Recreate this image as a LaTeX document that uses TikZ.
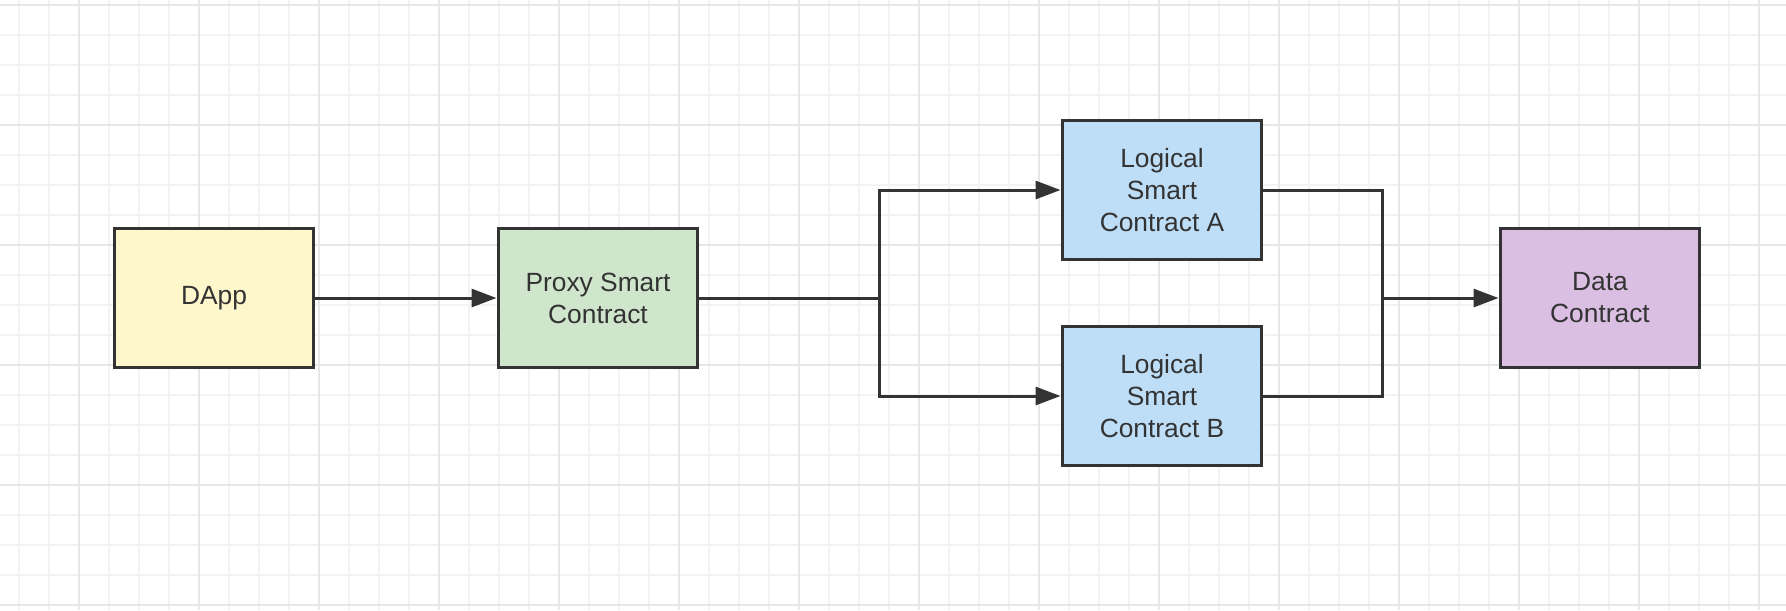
\documentclass[tikz,border=0pt]{standalone}
\usepackage{fontspec}
\setmainfont{Liberation Sans}
\usetikzlibrary{arrows.meta}
\definecolor{tinta}{HTML}{333333}
\definecolor{amarillo}{HTML}{FFF7CC}
\definecolor{verde}{HTML}{D0E6CC}
\definecolor{azul}{HTML}{BEDDF6}
\definecolor{morado}{HTML}{DBBFE3}
\definecolor{rejilla}{HTML}{F3F3F3}
\definecolor{rejillab}{HTML}{E7E7E7}
\tikzstyle{contrato} = [draw=tinta, line width=0.06cm, minimum width=4cm,
  minimum height=2.8cm, align=center, text=tinta,
  font=\fontsize{15}{18.2}\selectfont]
\tikzstyle{menor} = [draw=rejilla, line width=0.03cm]
\tikzstyle{mayor} = [draw=rejillab, line width=0.04cm]
\tikzstyle{tramo} = [draw, line width=0.06cm, color=tinta]
\tikzstyle{line} = [tramo, -{Triangle[length=0.5cm,width=0.36cm]}]
\newcommand{\caja}[3]{node (c#1) [contrato, fill=#2] {#3}}

\begin{document}
\begin{tikzpicture}[x=0.02cm, y=-0.02cm]
\useasboundingbox (0,0) rectangle (1786,610);

% Grid behind everything
\foreach \x in {19,49,...,1789} \path[menor] (\x,0) -- (\x,610);
\foreach \y in {5,35,...,605} \path[menor] (0,\y) -- (1786,\y);
\foreach \x in {79,199,...,1759} \path[mayor] (\x,0) -- (\x,610);
\foreach \y in {5,125,...,605} \path[mayor] (0,\y) -- (1786,\y);

% Draw diagram elements
\path (214,298)               \caja{1}{amarillo}{DApp};
\path (c1.center)+(384,0)     \caja{2}{verde}{Proxy Smart\\Contract};
\path (c2.center)+(564,-108)  \caja{3}{azul}{Logical\\Smart\\Contract A};
\path (c3.center)+(0,206)     \caja{4}{azul}{Logical\\Smart\\Contract B};
\path (c2.center)+(1002,0)    \caja{5}{morado}{Data\\Contract};

\coordinate (split) at (879,298);
\coordinate (merge) at (1382,298);

% Draw arrows between elements
\path [line] (c1.east) -- (c2.west);

\path [tramo] (c2.east) -- (split);
\path [line] (split) |- (c3.west);
\path [line] (split) |- (c4.west);

\path [tramo] (c3.east) -| (merge);
\path [tramo] (c4.east) -| (merge);
\path [line] (merge) -- (c5.west);

\end{tikzpicture}
\end{document}
